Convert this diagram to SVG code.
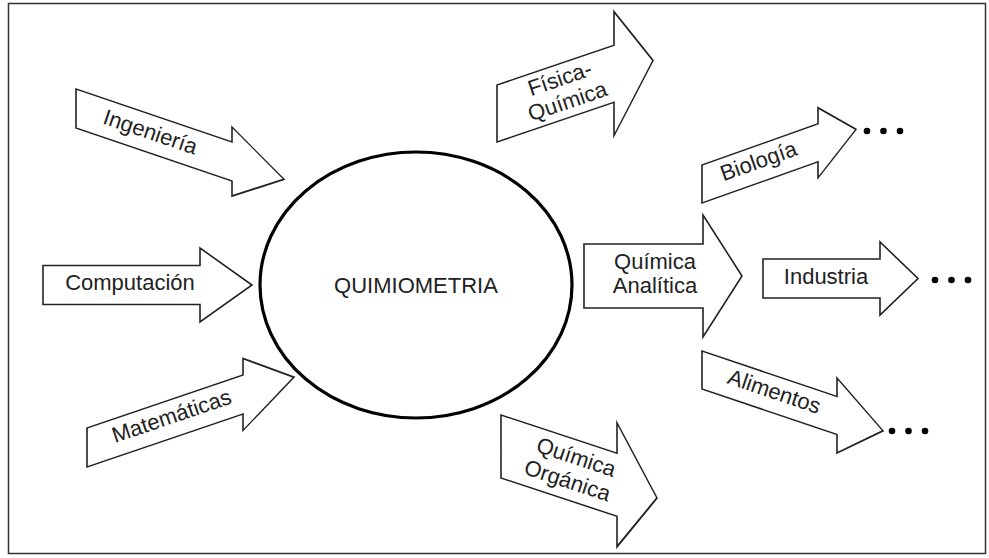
<svg xmlns="http://www.w3.org/2000/svg" width="989" height="558" viewBox="0 0 989 558">
<style>
.arr{fill:#fff;stroke:#222;stroke-width:1.6;stroke-linejoin:miter}
.t{font-family:"Liberation Sans",Arial,sans-serif;font-size:22px;fill:#222;text-anchor:middle}
.dot{fill:#000}
</style>
<rect x="8.5" y="3.5" width="977" height="550" fill="#fff" stroke="#333" stroke-width="1.5"/>
<g id="quimiometria">
<ellipse cx="416" cy="285" rx="156" ry="133" fill="#fff" stroke="#000" stroke-width="3.2"/>
<text class="t" x="416" y="293">QUIMIOMETRIA</text>
</g>
<g id="connectors">
<g id="ingenieria">
<polygon class="arr" transform="translate(76,108.5) skewY(18.78)" points="0,-19.5 156,-19.5 156,-34.5 208,0 156,34.5 156,19.5 0,19.5"/>
<text class="t" transform="translate(148,139) rotate(18.78)">Ingeniería</text>
</g>
<g id="computacion">
<polygon class="arr" transform="translate(43,285)" points="0,-19.5 157,-19.5 157,-37 209,0 157,37 157,19.5 0,19.5"/>
<text class="t" x="130" y="290">Computación</text>
</g>
<g id="matematicas">
<polygon class="arr" transform="translate(87,447.5) skewY(-18.78)" points="0,-19.5 156,-19.5 156,-36 207,0 156,36 156,19.5 0,19.5"/>
<text class="t" transform="translate(174,423) rotate(-18.78)">Matemáticas</text>
</g>
<g id="fisica-quimica">
<polygon class="arr" transform="translate(497,113.5) skewY(-18.78)" points="0,-28.5 117,-28.5 117,-62 156,0 117,62 117,28.5 0,28.5"/>
<g transform="translate(566,97) rotate(-18.78)">
<text class="t" x="0" y="-12">Física-</text>
<text class="t" x="0" y="12">Química</text>
</g>
</g>
<g id="quimica-organica">
<polygon class="arr" transform="translate(501,446.5) skewY(18.26)" points="0,-31.5 116,-31.5 116,-62 156,0 116,62 116,31.5 0,31.5"/>
<g transform="translate(570,476) rotate(18.26)">
<text class="t" x="0" y="-12.5">Química</text>
<text class="t" x="-1" y="12.5">Orgánica</text>
</g>
</g>
<g id="quimica-analitica">
<polygon class="arr" transform="translate(584,276)" points="0,-32 119,-32 119,-61 158,0 119,61 119,32 0,32"/>
<text class="t" x="655" y="269">Química</text>
<text class="t" x="655" y="293">Analítica</text>
</g>
<g id="biologia">
<polygon class="arr" transform="translate(702,184) skewY(-19.55)" points="0,-19 116,-19 116,-35 154,0 116,35 116,19 0,19"/>
<text class="t" transform="translate(761,168) rotate(-19.55)">Biología</text>
</g>
<g id="industria">
<polygon class="arr" transform="translate(763,278.5)" points="0,-19.5 117,-19.5 117,-36.5 155,0 117,36.5 117,19.5 0,19.5"/>
<text class="t" x="826" y="283.5">Industria</text>
</g>
<g id="alimentos">
<polygon class="arr" transform="translate(702,370) skewY(18.6)" points="0,-19 135,-19 135,-37.5 181,0 135,37.5 135,19 0,19"/>
<text class="t" transform="translate(772,398.5) rotate(18.6)">Alimentos</text>
</g>
</g>
<g id="dots">
<circle class="dot" cx="867" cy="131" r="3.3"/><circle class="dot" cx="883.5" cy="131" r="3.3"/><circle class="dot" cx="900" cy="131" r="3.3"/>
<circle class="dot" cx="935" cy="280" r="3.3"/><circle class="dot" cx="951.5" cy="280" r="3.3"/><circle class="dot" cx="968" cy="280" r="3.3"/>
<circle class="dot" cx="892" cy="431" r="3.3"/><circle class="dot" cx="908.5" cy="431" r="3.3"/><circle class="dot" cx="925" cy="431" r="3.3"/>
</g>
</svg>
